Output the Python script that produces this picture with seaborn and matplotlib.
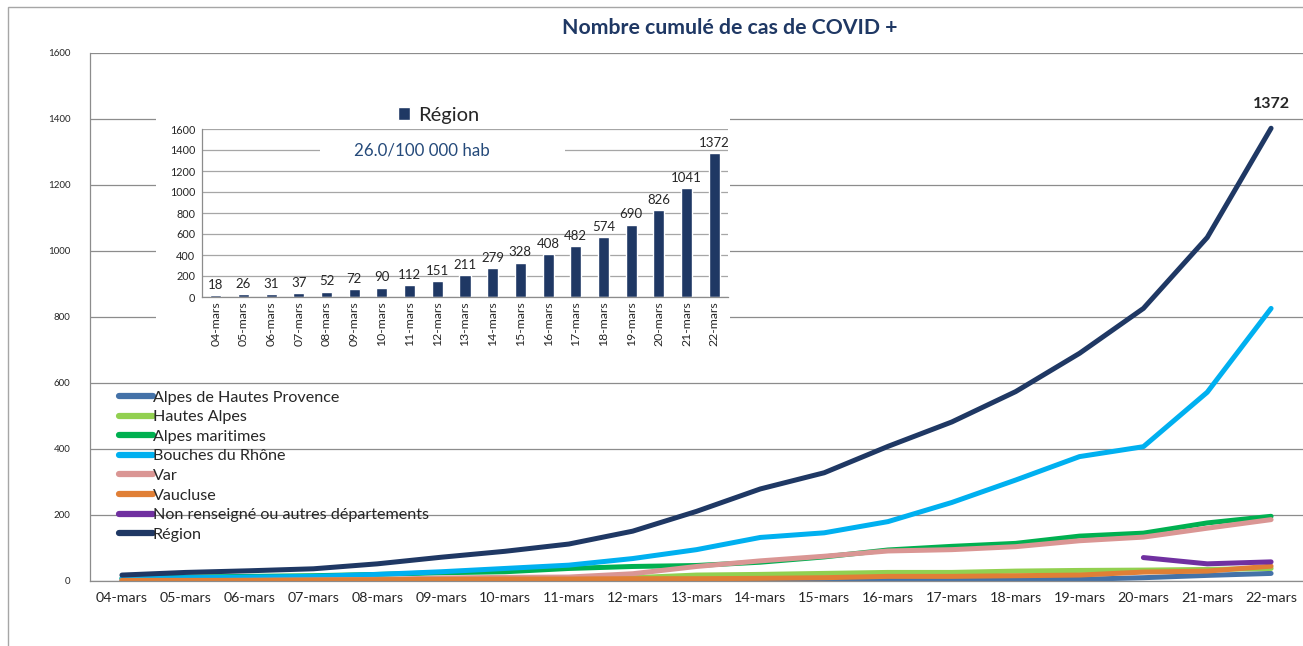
import pandas as pd
import seaborn as sns
import numpy as np
import matplotlib.pyplot as plt
from matplotlib.patches import Rectangle

dates = ['04-mars', '05-mars', '06-mars', '07-mars', '08-mars', '09-mars', '10-mars',
         '11-mars', '12-mars', '13-mars', '14-mars', '15-mars', '16-mars', '17-mars',
         '18-mars', '19-mars', '20-mars', '21-mars', '22-mars']
adhp = [0, 0, 0, 0, 0, 0, 0, 0, 0, 0, 1, 1, 3, 4, 4, 5, 10, 17, 23]
hautes_alpes = [0, 1, 1, 1, 3, 5, 7, 8, 10, 18, 20, 23, 26, 26, 30, 32, 33, 35, 38]
alpes_mar = [8, 12, 14, 16, 20, 25, 28, 38, 44, 47, 57, 73, 94, 105, 114, 136, 145, 176, 196]
bdr = [7, 10, 12, 14, 20, 28, 38, 48, 68, 95, 132, 146, 180, 238, 306, 377, 407, 572, 826]
var = [1, 1, 2, 3, 5, 9, 11, 12, 22, 44, 61, 75, 91, 95, 104, 122, 133, 160, 186]
vaucluse = [2, 2, 2, 3, 4, 5, 6, 6, 7, 7, 8, 10, 14, 14, 16, 18, 27, 30, 45]
non_rens = [np.nan] * 16 + [71, 52, 58]
region = [18, 26, 31, 37, 52, 72, 90, 112, 151, 211, 279, 328, 408, 482, 574, 690, 826, 1041, 1372]

series = {
    'Alpes de Hautes Provence': adhp,
    'Hautes Alpes': hautes_alpes,
    'Alpes maritimes': alpes_mar,
    'Bouches du Rhône': bdr,
    'Var': var,
    'Vaucluse': vaucluse,
    'Non renseigné ou autres départements': non_rens,
    'Région': region,
}
colors = ['#4472A8', '#92D050', '#00B050', '#00B0F0', '#DA9694', '#E07F36', '#7030A0', '#1F3864']

df = pd.DataFrame(series)
df['date'] = dates
long = df.melt(id_vars='date', var_name='zone', value_name='cas').dropna()

sns.set_style('white')
plt.rcParams['font.family'] = ['Lato', 'DejaVu Sans']
plt.rcParams['lines.solid_capstyle'] = 'round'

fig = plt.figure(figsize=(13.03, 6.46), dpi=100)
ax = fig.add_axes([90 / 1303, 65 / 646, 1213 / 1303, 528 / 646])

sns.lineplot(data=long, x='date', y='cas', hue='zone', hue_order=list(series),
             palette=colors, linewidth=3.6, ax=ax, sort=True)

ax.set_xlim(-0.5, 18.5)
ax.set_ylim(0, 1600)
ax.set_yticks(range(0, 1601, 200))
ax.yaxis.grid(True, color='#8C8C8C', linewidth=0.9)
ax.set_axisbelow(True)
ax.set_xlabel('')
ax.set_ylabel('')
ax.tick_params(axis='both', length=0)
ax.tick_params(axis='x', labelsize=10.3, pad=8)
ax.tick_params(axis='y', labelsize=7, pad=14)
for s in ['top', 'right']:
    ax.spines[s].set_visible(False)
for s in ['left', 'bottom']:
    ax.spines[s].set_color('#8C8C8C')
    ax.spines[s].set_linewidth(0.9)

handles, labels = ax.get_legend_handles_labels()
for h in handles:
    h.set_linewidth(4.5)
ax.legend(handles, labels, loc='upper left', bbox_to_anchor=(0.024, 0.361),
          frameon=False, fontsize=11.6, handlelength=2.1, handletextpad=0.0,
          labelspacing=0.33, borderpad=0, borderaxespad=0)

ax.annotate(str(region[-1]), (18, region[-1]), xytext=(0, 24), textcoords='offset pixels',
            ha='center', va='center', fontsize=11.5, fontweight='bold')

fig.text(730 / 1303, 1 - 28 / 646, 'Nombre cumulé de cas de COVID +', ha='center', va='center',
         fontsize=15.3, fontweight='bold', color='#1F3864')

# outer frame
fig.patches.append(Rectangle((8 / 1303, -0.1), 1.2, 1 - 7 / 646 + 0.1, transform=fig.transFigure,
                             facecolor='none', edgecolor='#A6A6A6', linewidth=1, zorder=0))

# inset bar chart
fig.patches.append(Rectangle((156 / 1303, 1 - 350 / 646), (730 - 156) / 1303, 255 / 646,
                             transform=fig.transFigure, facecolor='white', edgecolor='none',
                             zorder=1))
ax2 = fig.add_axes([202 / 1303, 1 - 297 / 646, 526 / 1303, 168 / 646], zorder=2)
bar_df = pd.DataFrame({'date': dates, 'Région': region})
sns.barplot(data=bar_df, x='date', y='Région', color='#1F3864', width=0.4, ax=ax2,
            label='Région', saturation=1)
ax2.set_xlim(-0.5, 18.5)
ax2.set_ylim(0, 1600)
ax2.set_yticks(range(0, 1601, 200))
ax2.yaxis.grid(True, color='#A6A6A6', linewidth=0.9)
ax2.set_axisbelow(True)
ax2.set_xlabel('')
ax2.set_ylabel('')
ax2.bar_label(ax2.containers[0], fontsize=9.5, padding=3)
ax2.tick_params(axis='x', labelrotation=90, labelsize=8.8, length=0, pad=3)
ax2.set_xticks(np.arange(-0.5, 19, 1), minor=True)
ax2.tick_params(axis='x', which='minor', length=4, color='#8C8C8C', direction='out')
ax2.tick_params(axis='y', labelsize=7.8, length=3, color='#8C8C8C', pad=2)
for s in ['top', 'right']:
    ax2.spines[s].set_visible(False)
for s in ['left', 'bottom']:
    ax2.spines[s].set_color('#8C8C8C')
    ax2.spines[s].set_linewidth(0.9)
ax2.add_patch(Rectangle((3.76, 1310), 12.6 - 3.76, 180, facecolor='white', edgecolor='none', zorder=1.5))
ax2.text(7.45, 1400, '26.0/100 000 hab', ha='center', va='center', fontsize=12.2,
         color='#254A7A', zorder=3)
ax2.legend(loc='lower center', bbox_to_anchor=(0.45, 1.03), frameon=False, fontsize=14.5,
           handlelength=0.6, handleheight=0.6, handletextpad=0.4, borderpad=0, borderaxespad=0)

fig.savefig('out.png', dpi=100)
